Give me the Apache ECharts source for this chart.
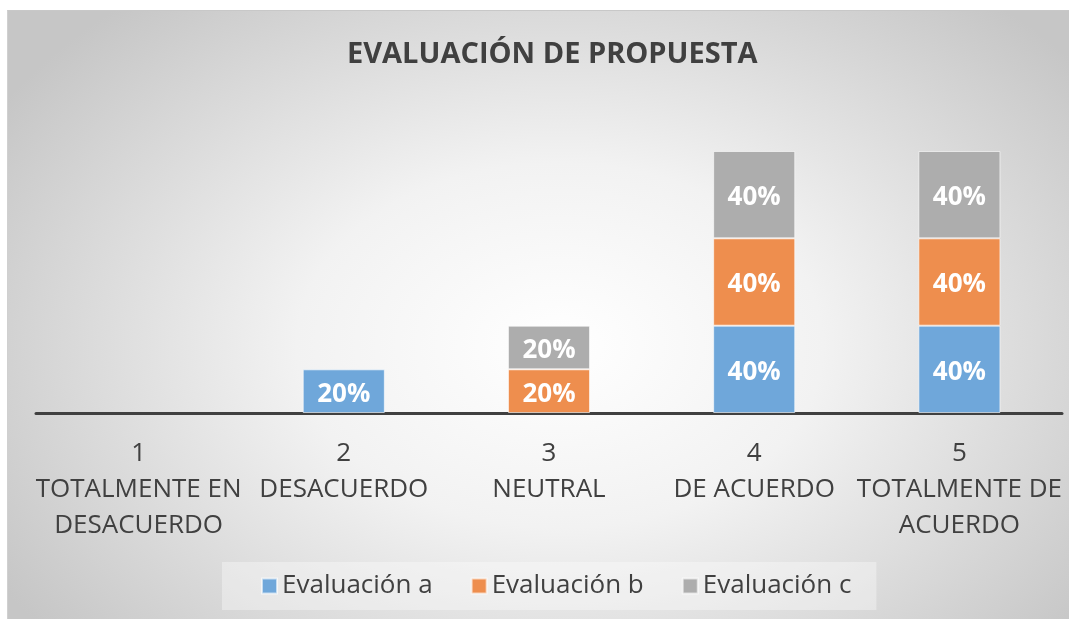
<!DOCTYPE html>
<html>
<head>
<meta charset="utf-8">
<script src="https://cdn.jsdelivr.net/npm/echarts@6/dist/echarts.min.js"></script>
<style>
  html, body { margin: 0; padding: 0; background: #fff; }
  #fondo {
    position: absolute; left: 7px; top: 10px; width: 1062px; height: 609px;
    box-sizing: border-box; border-top: 1px solid #c8c8c8; border-left: 1px solid #d0d0d0;
    background: radial-gradient(ellipse 62% 75% at 52% 55%, #ffffff 0%, #f2f2f2 40%, #c6c6c6 100%);
  }
  #grafico { position: absolute; left: 0; top: 0; width: 1077px; height: 619px; }
</style>
</head>
<body>
<div id="fondo"></div>
<div id="grafico"></div>
<script>
// categorias del eje x
var categorias = [
    '1\nTOTALMENTE EN\nDESACUERDO',
    '2\nDESACUERDO',
    '3\nNEUTRAL',
    '4\nDE ACUERDO',
    '5\nTOTALMENTE DE\nACUERDO'
];
// valores (%) por serie
var evalA = [0, 20, 0, 40, 40];
var evalB = [0, 0, 20, 40, 40];
var evalC = [0, 0, 20, 40, 40];

var nombres = ['Evaluación a', 'Evaluación b', 'Evaluación c'];
var colores = ['#6fa7da', '#ee8e4e', '#adadad'];

function serie(nombre, datos, color) {
    return {
        name: nombre,
        type: 'bar',
        stack: 'total',
        barWidth: '40%',
        itemStyle: {
            color: color,
            borderColor: 'rgba(255,255,255,0.6)',
            borderWidth: 1
        },
        label: {
            show: true,
            position: 'inside',
            offset: [0, 3],
            color: '#fff',
            fontFamily: 'Open Sans',
            fontWeight: 'bold',
            fontSize: 26,
            formatter: function (p) { return p.value > 0 ? p.value + '%' : ''; }
        },
        data: datos.map(function (v) { return v > 0 ? v : '-'; })
    };
}

var dom = document.getElementById('grafico');
var myChart = echarts.init(dom);
var option = {
    backgroundColor: 'transparent',
    title: {
        text: 'EVALUACIÓN DE PROPUESTA',
        left: 342,
        top: 35,
        textStyle: {
            fontFamily: 'Open Sans',
            fontWeight: 'bold',
            fontSize: 29,
            color: '#404040'
        }
    },
    legend: {
        bottom: 9,
        left: 222,
        itemWidth: 15,
        itemHeight: 15,
        itemGap: 38,
        padding: [11, 25, 11, 39],
        backgroundColor: 'rgba(255,255,255,0.35)',
        icon: 'rect',
        textStyle: {
            fontFamily: 'Open Sans',
            fontSize: 26,
            color: '#404040'
        },
        data: nombres
    },
    grid: {
        left: 36,
        right: 15,
        top: 151,
        bottom: 206
    },
    xAxis: {
        type: 'category',
        data: categorias,
        axisLine: { lineStyle: { color: '#404040', width: 3 } },
        axisTick: { show: false },
        axisLabel: {
            interval: 0,
            margin: 23,
            fontFamily: 'Open Sans',
            fontSize: 26,
            lineHeight: 36,
            color: '#404040'
        }
    },
    yAxis: {
        type: 'value',
        min: 0,
        max: 120,
        show: false
    },
    series: [
        serie(nombres[0], evalA, colores[0]),
        serie(nombres[1], evalB, colores[1]),
        serie(nombres[2], evalC, colores[2])
    ]
};
myChart.setOption(option, true);
window.onresize = myChart.resize;
</script>
</body>
</html>
